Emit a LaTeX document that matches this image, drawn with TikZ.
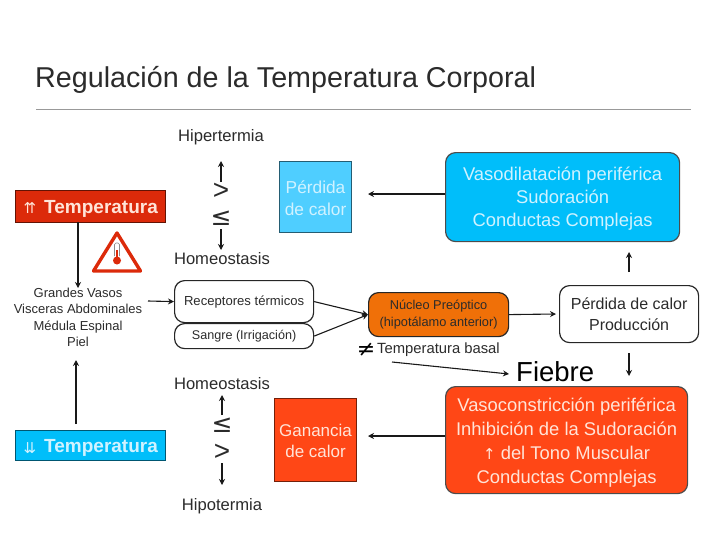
\documentclass[tikz,border=0pt]{standalone}
\usepackage{fontspec}
\setmainfont{Liberation Sans}
\newfontfamily\symfont{DejaVu Sans}
\usetikzlibrary{arrows.meta,calc}
\definecolor{txt}{HTML}{2B2B2B}
\definecolor{cblue}{HTML}{00BEFA}
\definecolor{lblue}{HTML}{4FCEFF}
\definecolor{cred}{HTML}{FF4716}
\definecolor{dred}{HTML}{DC2A0A}
\definecolor{corange}{HTML}{F07008}
\definecolor{softw}{HTML}{FFE4D8}
\definecolor{softb}{HTML}{D0F2FF}
\newcommand{\fs}[2]{\fontsize{#1}{#2}\selectfont}
\tikzset{
 x=1pt,y=-1pt,
 arr/.style={-{Stealth[length=6pt,width=6pt]},line width=1.1pt,black!90},
 lab/.style={inner sep=0pt,text=txt,align=center,font=\fs{16.6}{18}},
 sbox/.style={draw=#1!45!black,line width=1.1pt,rectangle,inner sep=0pt,anchor=north west,align=center},
 rbox/.style={draw=black!85,line width=1.2pt,rounded corners=10pt,inner sep=0pt,anchor=north west,align=center},
}
\begin{document}
\begin{tikzpicture}
\useasboundingbox (0,0) rectangle (728,546);
\node[lab,anchor=base west,font=\fs{28.7}{30}] (title) at (35,87) {Regulación de la Temperatura Corporal};
\coordinate (ruleL) at (36,109.5);
\coordinate (ruleR) at (691,109.5);
\draw[black!40,line width=0.7pt] (ruleL) -- (ruleR);

% left column
\node[sbox=dred,fill=dred,minimum width=150pt,minimum height=32pt] (hot) at (15,190) {};
\node[lab,anchor=west,text=softw,font=\fs{19}{20}\bfseries] (hotT) at (44,208.5) {Temperatura};
\node[lab,text=softw,font=\symfont\fs{15}{20}] (hotA) at (30,208.5) {⇈};
\node[sbox=cblue,fill=cblue,minimum width=150pt,minimum height=30pt] (cold) at (15,430) {};
\node[lab,anchor=west,text=softb,font=\fs{19}{20}\bfseries] (coldT) at (44,448) {Temperatura};
\node[lab,text=softb,font=\symfont\fs{15}{20}] (coldA) at (30,448) {⇊};
\node[lab,font=\fs{13}{16.4}] (sites) at (78,317.5) {Grandes Vasos\\Visceras Abdominales\\Médula Espinal\\Piel};
\draw[arr] (78,222) -- (78,288);
\draw[arr] (76,424) -- (76,360);
% warning sign
\draw[dred,line width=3.4pt,line join=round,fill=white] (117,233) -- (140.5,271) -- (93.5,271) -- cycle;
\draw[black!45,line width=0.6pt,rounded corners=1.5pt] (114.5,256) -- (114.5,243) -- (119.5,243) -- (119.5,256);
\fill[dred] (116,250) rectangle (118,258);
\fill[dred] (117,260.5) circle (4pt);

% centre column top
\node[lab] (hiper) at (221,137) {Hipertermia};
\node[lab] (homeA) at (222,259) {Homeostasis};
\node[lab,font=\fs{28}{28}] (gtA) at (221,191) {>};
\node[lab,font=\symfont\fs{25}{26}] (leA) at (221,218) {≤};
\draw[arr] (221,182) -- (221,161);
\draw[arr] (221,229) -- (221,250);

% centre column bottom
\node[lab] (homeB) at (222,384) {Homeostasis};
\node[lab] (hipo) at (222,506) {Hipotermia};
\node[lab,font=\symfont\fs{25}{26}] (leB) at (222,425) {≤};
\node[lab,font=\fs{28}{28}] (gtB) at (222,452) {>};
\draw[arr] (222,415) -- (222,395);
\draw[arr] (222,463) -- (222,485);

% heat squares
\node[sbox=lblue,fill=lblue,minimum width=72pt,minimum height=71pt] (loss) at (279,161) {};
\node[lab,text=softb,font=\fs{17.3}{22}] (lossT) at ([yshift=-1.5pt]loss.center) {Pérdida\\de calor};
\node[sbox=cred,fill=cred,minimum width=82pt,minimum height=83pt] (gain) at (274,398) {};
\node[lab,text=softw,font=\fs{17}{21}] (gainT) at ([yshift=-1pt]gain.center) {Ganancia\\de calor};

% receptors
\node[rbox,minimum width=139pt,minimum height=42pt,text=txt,font=\fs{13.1}{15}] (recep) at (174,280) {Receptores térmicos};
\node[rbox,minimum width=139pt,minimum height=25pt,text=txt,font=\fs{12.6}{15}] (blood) at (174,323) {Sangre (Irrigación)};
\draw[arr] (148,301) -- (recep.west);

% nucleus
\node[rbox,fill=corange,minimum width=140pt,minimum height=44pt,text=txt,font=\fs{12.8}{16.8}] (nuc) at (368,292) {Núcleo Preóptico\\(hipotálamo anterior)};
\draw[arr] (recep.east) -- (nuc.west);
\draw[arr] (blood.east) -- (nuc.west);

% output
\node[rbox,minimum width=139pt,minimum height=57pt,text=txt,font=\fs{16}{20.5}] (out) at (559,285) {Pérdida de calor\\Producción};
\coordinate (outArr) at (556,314);
\draw[arr] (nuc.east) -- (outArr);

% response boxes
\node[rbox,fill=cblue,draw=black!70,minimum width=234pt,minimum height=89pt] (vasoD) at (445,152) {};
\node[lab,text=softb,font=\fs{18.4}{23}] (vasoDT) at ([yshift=-2pt]vasoD.center) {Vasodilatación periférica\\Sudoración\\Conductas Complejas};
\node[rbox,fill=cred,draw=black!70,minimum width=242pt,minimum height=107pt] (vasoC) at (445,386) {};
\node[lab,text=softw,font=\fs{18.4}{24}] (vasoCT) at ([yshift=-2.5pt]vasoC.center) {Vasoconstricción periférica\\Inhibición de la Sudoración\\{\symfont\fs{15}{24}↑} del Tono Muscular\\Conductas Complejas};
\coordinate (lossArr) at (368,194);
\coordinate (gainArr) at (368,436);
\draw[arr] (vasoD.west |- lossArr) -- (lossArr);
\draw[arr] (vasoC.west |- gainArr) -- (gainArr);
\draw[arr] (629,272) -- (629,252);
\draw[arr] (629,353) -- (629,376);

% fever
\node[lab,anchor=base west,text=black,font=\fs{27.5}{30}] (fiebre) at (516,381) {Fiebre};
\node[lab,font=\symfont\fs{22}{22},text=black] (neq) at (366,350) {≠};
\node[lab,anchor=west,font=\fs{14.8}{16}] (basal) at (377,350) {Temperatura basal};
\coordinate (basalStart) at (392,362);
\coordinate (fiebreArr) at (509,374);
\draw[arr] (basalStart) -- (fiebreArr);
\end{tikzpicture}
\end{document}
